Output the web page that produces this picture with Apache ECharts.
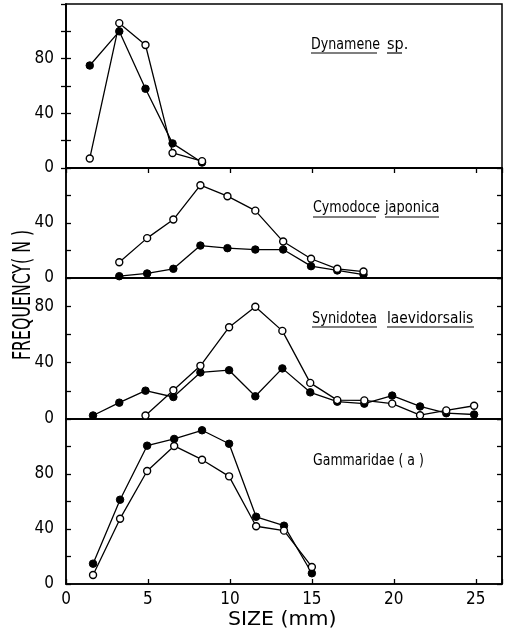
<!DOCTYPE html>
<html><head><meta charset="utf-8">
<script src="https://cdn.jsdelivr.net/npm/echarts@6/dist/echarts.min.js"></script>
<style>html,body{margin:0;padding:0;background:#fff}#c{width:505px;height:637px}</style>
</head><body><div id="c"></div>
<script>
// ---- data ----
const xTickLabels = [0, 5, 10, 15, 20, 25];
const yTickLabels = [0, 40, 80];
const panelMax = [120, 80, 100, 120];

const dynSizes  = [1.45, 3.25, 4.85, 6.5, 8.3];
const dynFilled = [75, 100, 58, 18, 4];
const dynOpen   = [7, 106, 90, 11, 5];

const cymSizes  = [3.25, 4.95, 6.55, 8.2, 9.85, 11.55, 13.25, 14.95, 16.55, 18.15];
const cymFilled = [1.3, 3.3, 6.7, 23.6, 21.7, 20.7, 20.7, 8.6, 5.5, 2.5];
const cymOpen   = [11.5, 29, 42.5, 67.5, 59.5, 49, 26.5, 14, 6.7, 4.7];

const synSizes  = [1.65, 3.25, 4.85, 6.55, 8.2, 9.95, 11.55, 13.2, 14.9, 16.55, 18.2, 19.9, 21.6, 23.2, 24.9];
const synFilled = [2.5, 11.6, 20.1, 15.6, 33, 34.6, 16.1, 35.9, 18.9, 12.3, 10.9, 16.6, 8.9, 4.1, 3.2];
const synOpen   = [null, null, 2.5, 20.4, 37.7, 65.1, 79.6, 62.5, 25.6, 13.4, 13.2, 10.9, 2.7, 6.1, 9.4];

const gamSizes  = [1.65, 3.3, 4.95, 6.6, 8.3, 9.95, 11.6, 13.3, 15];
const gamFilled = [14.8, 61.3, 100.6, 105.5, 111.8, 102, 48.9, 42.4, 7.8];
const gamOpen   = [6.5, 47.5, 82.2, 100.4, 90.4, 78.3, 42, 38.8, 12.4];

// ---- chart ----
const FONT = '"Liberation Sans Narrow","DejaVu Sans Condensed","Arial Narrow",sans-serif';
const XMAX = 26.6;
const pairs = (xs, ys) => xs.map((x, i) => [x, ys[i]]).filter(p => p[1] != null);

const grids = [
  {left: 66, right: 3, top: 4, height: 164},
  {left: 66, right: 3, top: 168, height: 110},
  {left: 66, right: 3, top: 278, height: 141},
  {left: 66, right: 3, top: 419, height: 165}
].map(g => Object.assign(g, {show: true, borderColor: '#000', borderWidth: 1.5, containLabel: false}));

const lineCol = '#000';
const xAxes = [];
for (let i = 0; i < 4; i++) {
  xAxes.push({
    gridIndex: i, type: 'value', min: 0, max: XMAX, interval: 5, position: 'bottom',
    axisLine: {show: true, lineStyle: {color: lineCol, width: 1.5}},
    axisTick: {show: i === 3, inside: true, length: 5, lineStyle: {color: lineCol, width: 1.3}},
    axisLabel: {show: i === 3, margin: 7, color: '#000', fontFamily: FONT, fontSize: 17,
      formatter: v => xTickLabels.includes(v) ? String(v) : ''},
    splitLine: {show: false}
  });
}
xAxes.push({
  gridIndex: 0, type: 'value', min: 0, max: XMAX, interval: 5, position: 'top',
  axisLine: {show: true, lineStyle: {color: lineCol, width: 1.5}},
  axisTick: {show: true, inside: true, length: 5, lineStyle: {color: lineCol, width: 1.3}},
  axisLabel: {show: false}, splitLine: {show: false}
});

const yAxes = [];
for (let i = 0; i < 4; i++) {
  const mx = panelMax[i];
  yAxes.push({
    gridIndex: i, type: 'value', min: 0, max: mx, interval: 20, position: 'left',
    axisLine: {show: true, lineStyle: {color: lineCol, width: 1.5}},
    axisTick: {show: true, inside: true, length: 5, lineStyle: {color: lineCol, width: 1.3}},
    axisLabel: {show: true, margin: 12, color: '#000', fontFamily: FONT, fontSize: 17,
      showMaxLabel: false,
      formatter: v => (yTickLabels.includes(v) && v < mx) ? String(v) : ''},
    splitLine: {show: false}
  });
  yAxes.push({
    gridIndex: i, type: 'value', min: 0, max: mx, interval: 20, position: 'right',
    axisLine: {show: true, lineStyle: {color: lineCol, width: 1.5}},
    axisTick: {show: true, inside: true, length: 5, lineStyle: {color: lineCol, width: 1.3}},
    axisLabel: {show: false}, splitLine: {show: false}
  });
}

function mk(panel, xs, ys, filled) {
  return {
    type: 'line', xAxisIndex: panel, yAxisIndex: panel * 2,
    data: pairs(xs, ys), symbol: 'circle', symbolSize: filled ? 7.5 : 7,
    lineStyle: {color: lineCol, width: 1.3},
    itemStyle: {color: filled ? '#000' : '#fff', borderColor: '#000', borderWidth: filled ? 1 : 1.4},
    z: filled ? 3 : 4, animation: false, silent: true
  };
}

const series = [
  mk(0, dynSizes, dynFilled, true), mk(0, dynSizes, dynOpen, false),
  mk(1, cymSizes, cymFilled, true), mk(1, cymSizes, cymOpen, false),
  mk(2, synSizes, synFilled, true), mk(2, synSizes, synOpen, false),
  mk(3, gamSizes, gamFilled, true), mk(3, gamSizes, gamOpen, false)
];

const txt = (t, x, y, size, extra) => Object.assign({
  type: 'text', x: x, y: y,
  style: {text: t, fill: '#000', font: size + 'px ' + FONT, textVerticalAlign: 'middle', textAlign: 'left'}
}, extra || {});
const ul = (x1, x2, y) => ({type: 'line', shape: {x1: x1, y1: y, x2: x2, y2: y}, style: {stroke: '#000', lineWidth: 1.2}});

const graphic = [
  txt('Dynamene', 311, 45, 16, {scaleX: 0.88}), txt('sp.', 387, 45, 16),
  ul(311, 377, 53), ul(387, 402, 53),
  txt('Cymodoce', 313, 208, 16, {scaleX: 0.88}), txt('japonica', 385, 208, 16, {scaleX: 0.9}),
  ul(313, 376, 217), ul(385, 439, 217),
  txt('Synidotea', 312, 319, 16, {scaleX: 0.9}), txt('laevidorsalis', 387, 319, 16, {scaleX: 0.96}),
  ul(312, 377, 327), ul(387, 474, 327),
  txt('Gammaridae ( a )', 313, 461, 16, {scaleX: 0.87}),
  txt('SIZE (mm)', 228, 620, 20, {scaleX: 1.14}),
  txt('FREQUENCY( N )', 24, 360, 24, {rotation: Math.PI / 2, scaleX: 0.73})
];

const chart = echarts.init(document.getElementById('c'), null, {renderer: 'canvas'});
chart.setOption({
  animation: false, backgroundColor: '#fff',
  grid: grids, xAxis: xAxes, yAxis: yAxes, series: series, graphic: graphic
});
</script></body></html>
